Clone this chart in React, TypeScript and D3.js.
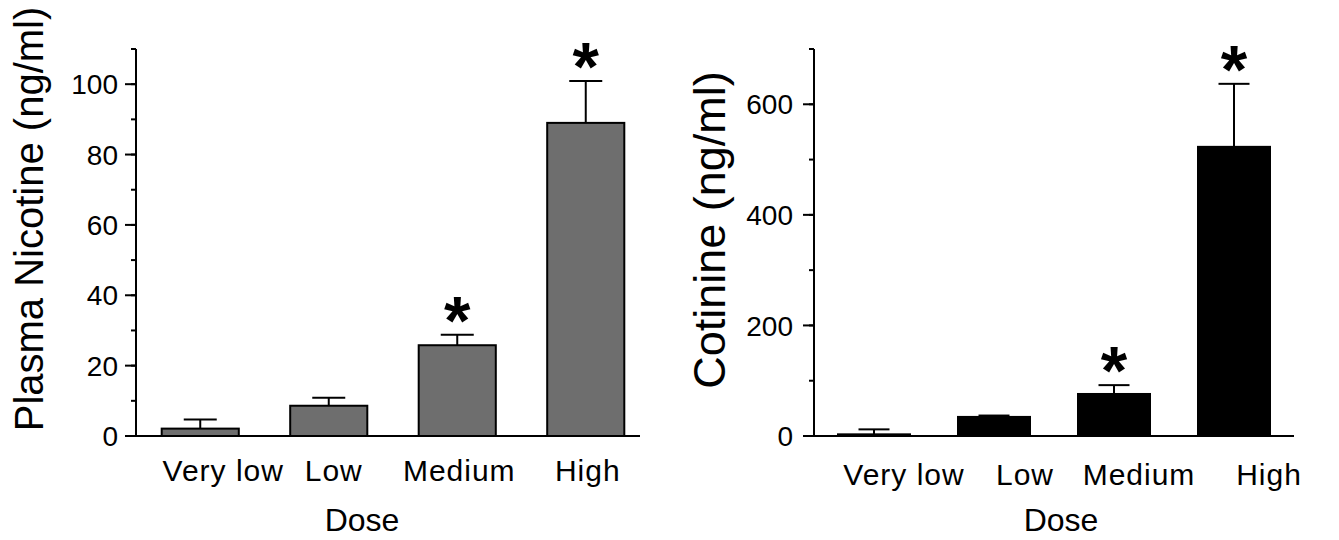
import React from "react";
import * as d3 from "d3";

const categories = ["Very low", "Low", "Medium", "High"];
const nicotineMean = [2.1, 8.6, 25.8, 89.0];
const nicotineSem = [2.6, 2.3, 3.0, 11.9];
const cotinineMean = [3, 34.5, 76, 523];
const cotinineSem = [9, 2.5, 16, 114];
const significant = [false, false, true, true];
const nicotineTicks = [0, 20, 40, 60, 80, 100];
const cotinineTicks = [0, 200, 400, 600];

const FONT = "'Liberation Sans', Arial, Helvetica, sans-serif";

type PanelProps = {
  means: number[];
  sems: number[];
  ticks: number[];
  minorStep: number;
  yMax: number;
  axisX: number;
  rangeEnd: number;
  axisEnd: number;
  fill: string;
  capW: number;
  title: string;
  titleX: number;
  titleY: number;
  titleSize: number;
  labelGap: number;
  labelNudge: number[];
  labelY: number;
  doseX: number;
};

function Panel(p: PanelProps) {
  const top = 49;
  const bottom = 436;
  const y = d3.scaleLinear().domain([0, p.yMax]).range([bottom, top]);
  const x = d3
    .scaleBand<string>()
    .domain(categories)
    .range([p.axisX, p.rangeEnd])
    .paddingInner(0.4)
    .paddingOuter(0.2);
  const minor = d3.range(0, p.yMax + 0.001, p.minorStep);
  const bw = x.bandwidth();
  return (
    <g>
      {categories.map((c, i) => {
        const x0 = x(c) as number;
        const cx = x0 + bw / 2;
        const yTop = y(p.means[i]);
        const yErr = y(p.means[i] + p.sems[i]);
        return (
          <g key={c}>
            <line x1={cx} x2={cx} y1={yTop} y2={yErr} stroke="#000" strokeWidth={2} />
            <line x1={cx - p.capW / 2} x2={cx + p.capW / 2} y1={yErr} y2={yErr} stroke="#000" strokeWidth={2} />
            <rect x={x0} y={yTop} width={bw} height={bottom - yTop} fill={p.fill} stroke="#000" strokeWidth={2} />
            {significant[i] && (
              <text x={cx} y={yErr + 9} textAnchor="middle" fontFamily={FONT} fontWeight="bold" fontSize={68} fill="#000">
                *
              </text>
            )}
            <text
              x={cx + p.labelNudge[i]}
              y={p.labelY}
              textAnchor="middle"
              fontFamily={FONT}
              fontSize={30}
              letterSpacing={1}
              fill="#000"
            >
              {c}
            </text>
          </g>
        );
      })}
      <line x1={p.axisX} x2={p.axisX} y1={top} y2={bottom} stroke="#000" strokeWidth={2} />
      <line x1={p.axisX} x2={p.axisEnd} y1={bottom} y2={bottom} stroke="#000" strokeWidth={2} />
      {minor.map((v) => (
        <line key={"m" + v} x1={p.axisX - 5} x2={p.axisX} y1={y(v)} y2={y(v)} stroke="#000" strokeWidth={2} />
      ))}
      <line x1={p.axisX - 5} x2={p.axisX} y1={top} y2={top} stroke="#000" strokeWidth={2} />
      {p.ticks.map((v) => (
        <g key={"t" + v}>
          <line x1={p.axisX - 11} x2={p.axisX} y1={y(v)} y2={y(v)} stroke="#000" strokeWidth={2} />
          <text
            x={p.axisX - p.labelGap}
            y={y(v)}
            dy="0.36em"
            textAnchor="end"
            fontFamily={FONT}
            fontSize={28}
            fill="#000"
          >
            {v}
          </text>
        </g>
      ))}
      <text
        transform={`translate(${p.titleX},${p.titleY}) rotate(-90)`}
        textAnchor="middle"
        fontFamily={FONT}
        fontSize={p.titleSize}
        fill="#000"
      >
        {p.title}
      </text>
      <text x={p.doseX} y={531} textAnchor="middle" fontFamily={FONT} fontSize={32} fill="#000">
        Dose
      </text>
    </g>
  );
}

export default function App() {
  return (
    <svg
      width={1339}
      height={540}
      viewBox="0 0 1339 540"
      style={{ position: "absolute", left: 0, top: 0, background: "#fff" }}
    >
      <rect width={1339} height={540} fill="#fff" />
      <Panel
        means={nicotineMean}
        sems={nicotineSem}
        ticks={nicotineTicks}
        minorStep={10}
        yMax={110}
        axisX={136}
        rangeEnd={650}
        axisEnd={640}
        fill="#6e6e6e"
        capW={33}
        title="Plasma Nicotine (ng/ml)"
        titleX={43}
        titleY={219}
        titleSize={40}
        labelGap={18}
        labelNudge={[23, 5, 2, 2]}
        labelY={481}
        doseX={362}
      />
      <Panel
        means={cotinineMean}
        sems={cotinineSem}
        ticks={cotinineTicks}
        minorStep={100}
        yMax={700}
        axisX={814}
        rangeEnd={1294}
        axisEnd={1294}
        fill="#000"
        capW={31}
        title="Cotinine (ng/ml)"
        titleX={725}
        titleY={230}
        titleSize={45}
        labelGap={21}
        labelNudge={[30, 31, 25, 35]}
        labelY={485}
        doseX={1061}
      />
    </svg>
  );
}
